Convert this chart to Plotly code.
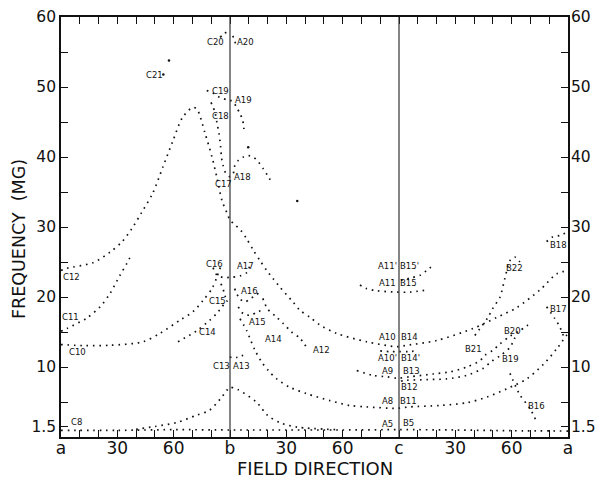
import plotly.graph_objects as go

# Field direction in degrees: a=0, b=90, c=180, a=270 ; Frequency in MG
c8_a5_b5_deg = [0, 30, 60, 90, 120, 150, 180, 210, 240, 270]
c8_a5_b5_mg = [0.95, 0.95, 1.05, 1.0, 1.0, 1.0, 1.05, 1.0, 0.9, 0.85]

hump_deg = [40, 50, 62, 72, 79, 85, 88.4, 90, 94, 104, 110, 117, 126, 147]
hump_mg = [1.1, 1.5, 2.1, 3.1, 3.8, 5.5, 6.7, 7.1, 6.8, 5.0, 3.1, 2.0, 1.4, 1.05]

c12_a10_b14_deg = [0, 3.2, 17, 26.1, 32.5, 37.8, 43, 48.8, 54.3, 59.6, 64.8, 70.3, 72.5, 76.7,
                   80.4, 83.1, 85.7, 88.4, 90, 92.3, 95.8, 98.9, 102.4, 106, 109.5, 113, 116.6,
                   123.5, 127.3, 132.6, 137.9, 146.8, 162.9, 178.9, 184.2, 200.2, 219.4, 232.2,
                   242.8, 255, 264, 270]
c12_a10_b14_mg = [23.8, 24.1, 24.9, 26.4, 27.9, 29.8, 32.1, 34.8, 38.6, 42.3, 45.7, 47.1, 46.8, 43.4,
                  40.0, 37.0, 33.8, 32.0, 31.0, 30.4, 29.5, 28.3, 26.7, 25.2, 23.8, 22.6, 21.4,
                  19.3, 18.1, 17.1, 16.0, 14.8, 13.6, 12.9, 13.1, 13.8, 15.5, 17.1,
                  18.5, 21.0, 23.3, 23.8]

c11_deg = [0, 3.2, 13.8, 20.8, 26.1, 31.4, 35.1, 37.8]
c11_mg = [15.1, 15.5, 17.0, 18.6, 20.5, 23.1, 24.8, 26.2]

c10_c16_deg = [0, 13, 26.1, 43.7, 52.7, 63.4, 70.3, 75.6, 80.4, 83.1, 85.2]
c10_c16_mg = [13.2, 13.05, 13.1, 13.6, 14.8, 16.7, 17.9, 19.5, 21.2, 22.9, 24.5]

c16_a17_deg = [81, 83.1, 86.3, 90, 95.3, 99, 100.6]
c16_a17_mg = [24.2, 23.1, 22.8, 22.8, 23.0, 23.5, 24.5]

c15_deg = [85.2, 86.8, 88]
c15_mg = [21.9, 20.7, 19.5]

c14_deg = [62.3, 72.4, 79.3, 83.1, 85.7, 87.9, 90]
c14_mg = [13.6, 15.2, 16.7, 17.7, 18.6, 19.3, 19.8]

a16_deg = [92.5, 95, 98, 101, 104, 107]
a16_mg = [21.2, 19.8, 19.3, 19.8, 20.3, 21.0]

a15_deg = [94.4, 97.1, 100.6, 105, 106.9]
a15_mg = [18.6, 17.6, 17.4, 17.9, 18.1]

a14_a8_b11_deg = [95.3, 98.9, 100.6, 103.3, 106.9, 110.4, 114.9, 121.9, 130.8, 143.2, 153.9, 162.9,
                  178.9, 185.8, 201.8, 216.2, 226.8, 237.5, 248, 257, 264, 269.4]
a14_a8_b11_mg = [16.9, 15.2, 14.1, 12.4, 10.7, 9.5, 8.3, 7.1, 6.2, 5.2, 4.5, 4.3,
                 4.1, 4.3, 4.5, 4.9, 5.7, 6.9, 8.3, 10.4, 12.6, 14.6]

a12_deg = [107.5, 110, 114.9, 118.4, 122.8, 127.3, 131.7]
a12_mg = [19.8, 18.3, 17.1, 16.2, 15.0, 14.1, 12.4]

a11_b15_deg = [159.2, 162.8, 168.1, 178.8, 185.8, 194.7]
a11_b15_mg = [21.7, 21.2, 20.9, 20.7, 20.7, 21.0]

b15p_deg = [181, 185.8, 191.2, 194.7, 198.2]
b15p_mg = [22.4, 22.7, 23.1, 23.8, 24.5]

a10p_b14p_deg = [170, 175, 180, 185, 189]
a10p_b14p_mg = [12.3, 12.2, 12.2, 12.2, 12.3]

a9_b13_b21_deg = [157.5, 166.1, 173.4, 178.9, 185.8, 198.1, 207.1, 216.2, 223.1, 225.8, 230, 233.8,
                  239.1, 244.4, 248.7]
a9_b13_b21_mg = [9.5, 8.8, 8.6, 8.4, 8.6, 9.0, 9.3, 10.0, 10.9, 11.7, 12.4, 13.3,
                 14.4, 15.2, 16.0]

b12_b19_deg = [181, 184, 194.7, 205.4, 216, 224.7, 229.3, 233.8, 239.1, 241.7]
b12_b19_mg = [8.0, 8.1, 8.2, 8.3, 8.8, 9.8, 10.8, 11.6, 12.8, 14.2]

b16_deg = [239.1, 244.4, 249.7, 252.9]
b16_mg = [9.1, 6.0, 4.1, 2.4]

b17_deg = [258.6, 263, 265.7, 267.5]
b17_mg = [18.6, 16.9, 15.7, 14.5]

b18_deg = [258.6, 262, 265.7, 268.4]
b18_mg = [27.9, 28.6, 28.8, 29.1]

b22_deg = [220.4, 223.1, 227.4, 230, 233.8, 236.4, 239.1, 241.7, 244.4]
b22_mg = [14.5, 15.5, 17.1, 18.4, 20.0, 22.7, 25.2, 25.7, 25.0]

c13_a13_deg = [90, 91, 94, 96, 98]
c13_a13_mg = [11.5, 11.3, 11.4, 11.6, 11.7]

c18_a18_deg = [79.9, 82, 83.1, 84.1, 85, 85.5, 86.3, 87.9, 90, 91.7, 92.6, 94.4, 97.1, 99.8,
               102.4, 105.1, 107.8, 109.9, 112.2]
c18_a18_mg = [47.8, 46.4, 44.8, 43.4, 41.5, 39.9, 38.8, 37.6, 37.2, 37.6, 38.8, 39.5, 40.0, 40.2,
              40.0, 39.3, 38.3, 37.4, 36.4]

c19_a19_deg = [77.6, 81.1, 84.7, 88.2, 90, 91.7, 93.5, 95.3, 96.8, 97.4]
c19_a19_mg = [49.5, 49.1, 48.5, 48.2, 48.1, 47.9, 47.1, 46.2, 45.2, 44.0]

c20_deg = [84.7, 86.8, 88.5, 90]
c20_mg = [57.1, 57.6, 57.9, 58.0]

a20_deg = [91.5, 92.5, 93.2]
a20_mg = [57.3, 56.6, 55.9]

single_deg = [125.8, 54.5, 57.5, 99.7]
single_mg = [33.7, 51.8, 53.8, 41.4]

label_text = ["C20", "A20", "C21", "C19", "A19", "C18", "A18", "C17", "C16", "A17", "C12", "A16",
              "C15", "C11", "A15", "C14", "A14", "C10", "A12", "C13", "A13", "C8",
              "A11'", "B15'", "A11", "B15", "A10", "B14", "A10'", "B14'", "A9", "B13", "B12",
              "A8", "B11", "A5", "B5", "B22", "B18", "B17", "B20", "B21", "B19", "B16"]
label_deg = [82.5, 98.5, 49.8, 85.2, 97.4, 84.7, 96.9, 86.3, 81.5, 98.0, 5.7, 100.6,
             83.1, 5.3, 104.4, 78.0, 113.0, 8.8, 138.7, 85.5, 96.1, 8.0,
             174.1, 185.8, 174.1, 185.3, 174.1, 185.6, 173.9, 186.1, 174.1, 186.6, 185.8,
             174.1, 185.3, 174.1, 184.8, 241.5, 265.2, 265.2, 240.4, 219.6, 239.6, 253.2]
label_mg = [56.4, 56.4, 51.7, 49.5, 48.2, 45.8, 37.1, 36.1, 24.7, 24.5, 22.9, 20.8,
            19.4, 17.1, 16.5, 15.0, 14.0, 12.2, 12.5, 10.2, 10.2, 2.1,
            24.5, 24.5, 22.0, 22.0, 14.3, 14.3, 11.3, 11.3, 9.5, 9.5, 7.1,
            5.1, 5.1, 1.9, 1.95, 24.1, 27.4, 18.3, 15.2, 12.6, 11.1, 4.4]

x_tickvals = list(range(0, 271, 10))
x_major = {0: "a", 30: "30", 60: "60", 90: "b", 120: "30", 150: "60",
           180: "c", 210: "30", 240: "60", 270: "a"}
x_ticktext = [x_major.get(v, "") for v in x_tickvals]

y_tickvals = [1.5, 5, 10, 15, 20, 25, 30, 35, 40, 45, 50, 55, 60]
y_ticktext = ["1.5", "", "10", "", "20", "", "30", "", "40", "", "50", "", "60"]

x_title = "FIELD DIRECTION"
y_title = "FREQUENCY  (MG)"

curves = [
    (c8_a5_b5_deg, c8_a5_b5_mg), (hump_deg, hump_mg), (c12_a10_b14_deg, c12_a10_b14_mg),
    (c11_deg, c11_mg), (c10_c16_deg, c10_c16_mg), (c16_a17_deg, c16_a17_mg), (c15_deg, c15_mg),
    (c14_deg, c14_mg), (a16_deg, a16_mg), (a15_deg, a15_mg), (a14_a8_b11_deg, a14_a8_b11_mg),
    (a12_deg, a12_mg), (a11_b15_deg, a11_b15_mg), (b15p_deg, b15p_mg),
    (a10p_b14p_deg, a10p_b14p_mg), (a9_b13_b21_deg, a9_b13_b21_mg), (b12_b19_deg, b12_b19_mg),
    (b16_deg, b16_mg), (b17_deg, b17_mg), (b18_deg, b18_mg), (b22_deg, b22_mg),
    (c13_a13_deg, c13_a13_mg), (c18_a18_deg, c18_a18_mg), (c19_a19_deg, c19_a19_mg),
    (c20_deg, c20_mg), (a20_deg, a20_mg),
]

fig = go.Figure()
for xs, ys in curves:
    fig.add_trace(go.Scatter(
        x=xs, y=ys, mode="lines",
        line=dict(color="#111", width=1.7, dash="1.6px,4.8px", shape="spline", smoothing=0.8),
        hoverinfo="skip", showlegend=False))

fig.add_trace(go.Scatter(x=single_deg, y=single_mg, mode="markers",
                         marker=dict(color="#111", size=2.5), showlegend=False, hoverinfo="skip"))
fig.add_trace(go.Scatter(x=[None], y=[None], yaxis="y2", showlegend=False))

for t, xd, yd in zip(label_text, label_deg, label_mg):
    fig.add_annotation(x=xd, y=yd, text=t, showarrow=False,
                       font=dict(family="DejaVu Sans", size=8.5, color="#111"))

# axis titles
fig.add_annotation(x=0.5, y=0, xref="paper", yref="paper", text=x_title, showarrow=False,
                   yanchor="middle", yshift=-31,
                   font=dict(family="DejaVu Sans", size=18, color="#111"))
fig.add_annotation(x=0, y=0.5, xref="paper", yref="paper", text=y_title, showarrow=False,
                   xanchor="center", xshift=-42, yshift=-12, textangle=-90,
                   font=dict(family="DejaVu Sans", size=17.5, color="#111"))

for v in (90, 180):
    fig.add_shape(type="line", x0=v, x1=v, y0=0, y1=1, xref="x", yref="paper",
                  line=dict(color="#333", width=1.2))

x_font = dict(family="DejaVu Sans", size=17, color="#111")
y_font = dict(family="DejaVu Sans", size=15.5, color="#111")
fig.update_layout(
    width=595, height=479,
    margin=dict(l=61, r=27, t=17, b=42, autoexpand=False),
    paper_bgcolor="white", plot_bgcolor="white",
    font=dict(family="DejaVu Sans", color="#111"),
    xaxis=dict(range=[0, 270], tickvals=x_tickvals, ticktext=x_ticktext, automargin=False,
               ticks="inside", ticklen=7, tickwidth=1.3, tickcolor="#111",
               showline=True, linewidth=1.6, linecolor="#111", mirror="ticks",
               showgrid=False, zeroline=False, tickfont=x_font,
               ticklabelstandoff=-5, ticklabeloverflow="allow"),
    yaxis=dict(range=[0, 60], tickvals=y_tickvals, ticktext=y_ticktext, automargin=False,
               ticks="inside", ticklen=7, tickwidth=1.3, tickcolor="#111",
               showline=True, linewidth=1.6, linecolor="#111", mirror=True,
               showgrid=False, zeroline=False, tickfont=y_font, ticklabeloverflow="allow"),
    yaxis2=dict(range=[0, 60], tickvals=y_tickvals, ticktext=y_ticktext, overlaying="y",
                side="right", ticks="inside", ticklen=7, tickwidth=1.3, tickcolor="#111",
                showline=True, linewidth=1.6, linecolor="#111", automargin=False,
                showgrid=False, zeroline=False, tickfont=y_font, ticklabeloverflow="allow",
                ticklabelstandoff=-2),
)

fig.write_html("out.html", config={"displayModeBar": False},
               post_script="document.body.style.margin='0px';")
